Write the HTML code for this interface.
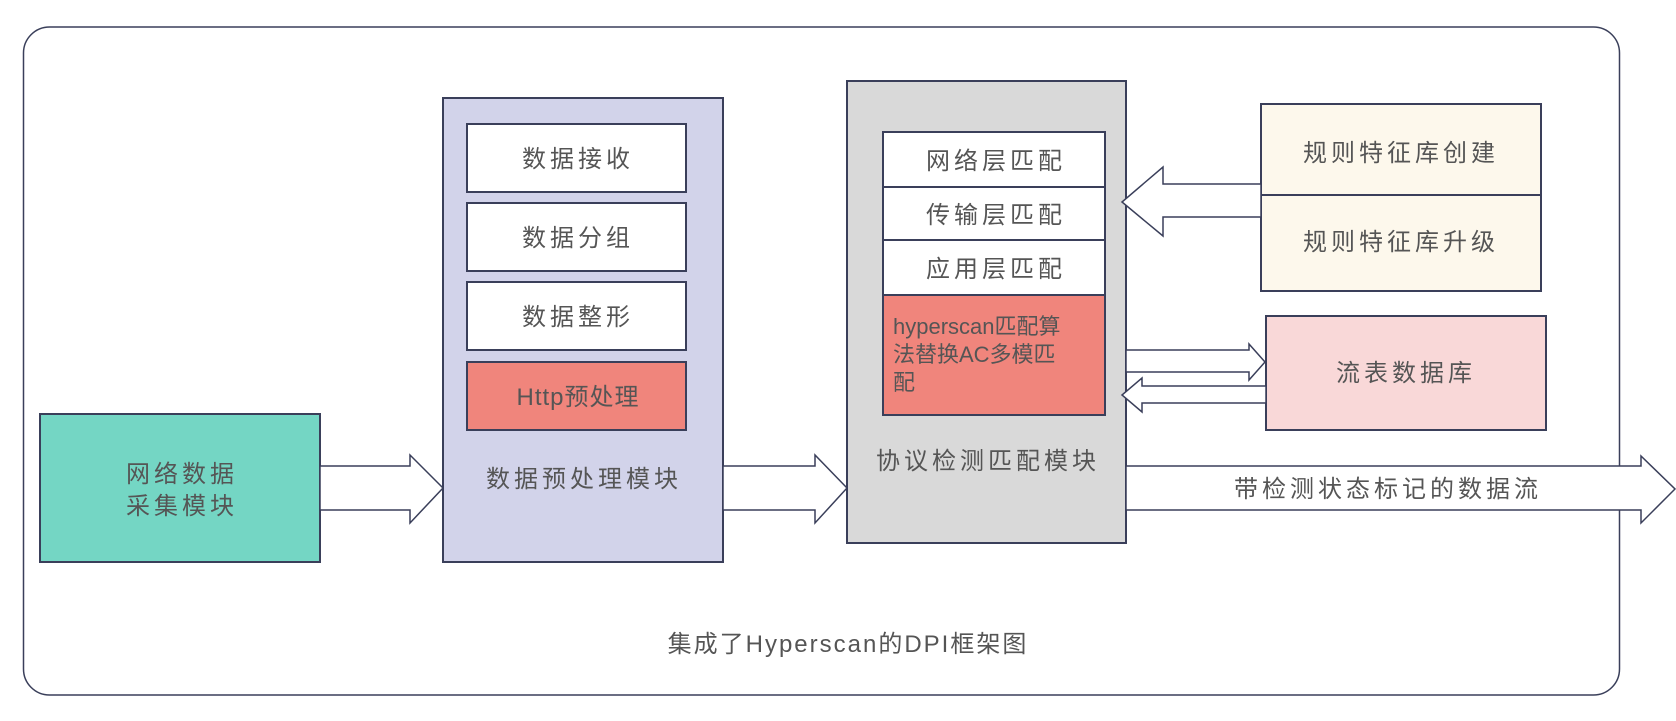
<!DOCTYPE html>
<html><head><meta charset="utf-8"><style>
html,body{margin:0;padding:0;background:#fff}
svg text{font-family:"Liberation Sans","Noto Sans CJK SC",sans-serif;fill:#555;}
</style></head><body>
<svg width="1676" height="716" viewBox="0 0 1676 716" xmlns="http://www.w3.org/2000/svg">
<rect x="23.5" y="27" width="1596" height="668" rx="26" fill="#fff" stroke="#3a3f5a" stroke-width="1.5"/>
<g stroke="#3a3f5a" stroke-width="2">
<rect x="40" y="414" width="280" height="148" fill="#74d6c4"/>
<rect x="443" y="98" width="280" height="464" fill="#d2d3ea"/>
<rect x="467" y="124" width="219" height="68" fill="#fff"/>
<rect x="467" y="203" width="219" height="68" fill="#fff"/>
<rect x="467" y="282" width="219" height="68" fill="#fff"/>
<rect x="467" y="362" width="219" height="68" fill="#f0857c"/>
<rect x="847" y="81" width="279" height="462" fill="#d9d9d9"/>
<rect x="883" y="132" width="222" height="55" fill="#fff"/>
<rect x="883" y="187" width="222" height="53" fill="#fff"/>
<rect x="883" y="240" width="222" height="55" fill="#fff"/>
<rect x="883" y="295" width="222" height="120" fill="#f0857c"/>
<rect x="1261" y="104" width="280" height="91" fill="#fdf8ec"/>
<rect x="1261" y="195" width="280" height="96" fill="#fdf8ec"/>
<rect x="1266" y="316" width="280" height="114" fill="#f9d8d8"/>
</g>
<g fill="#fff" stroke="#3a3f5a" stroke-width="1.5">
<polygon points="320,466 410,466 410,455 443,488 410,523 410,510 320,510"/>
<polygon points="723,466 815,466 815,455 847,488 815,523 815,510 723,510"/>
<polygon points="1126,466 1641,466 1641,456 1675,489 1641,523 1641,510 1126,510"/>
<polygon points="1261,184 1163,184 1163,167 1122,202 1163,236 1163,217 1261,217"/>
<polygon points="1126,350 1249,350 1249,344 1265,362 1249,380 1249,372 1126,372"/>
<polygon points="1266,386 1142,386 1142,378 1122,395 1142,412 1142,403 1266,403"/>
</g>
<g font-size="24" text-anchor="middle" letter-spacing="4">
<text x="182" y="482">网络数据</text>
<text x="182" y="514">采集模块</text>
<text x="578" y="167">数据接收</text>
<text x="578" y="246">数据分组</text>
<text x="578" y="325">数据整形</text>
<text x="578" y="405" letter-spacing="1">Http预处理</text>
<text x="584" y="487">数据预处理模块</text>
<text x="996" y="169">网络层匹配</text>
<text x="996" y="223">传输层匹配</text>
<text x="996" y="277">应用层匹配</text>
<text x="988" y="469">协议检测匹配模块</text>
<text x="1401" y="161">规则特征库创建</text>
<text x="1401" y="250">规则特征库升级</text>
<text x="1406" y="381">流表数据库</text>
<text x="1388" y="497">带检测状态标记的数据流</text>
<text x="848" y="652" letter-spacing="2">集成了Hyperscan的DPI框架图</text>
</g>
<g font-size="22">
<text x="893" y="334">hyperscan匹配算</text>
<text x="893" y="362">法替换AC多模匹</text>
<text x="893" y="390">配</text>
</g>
</svg>
</body></html>
